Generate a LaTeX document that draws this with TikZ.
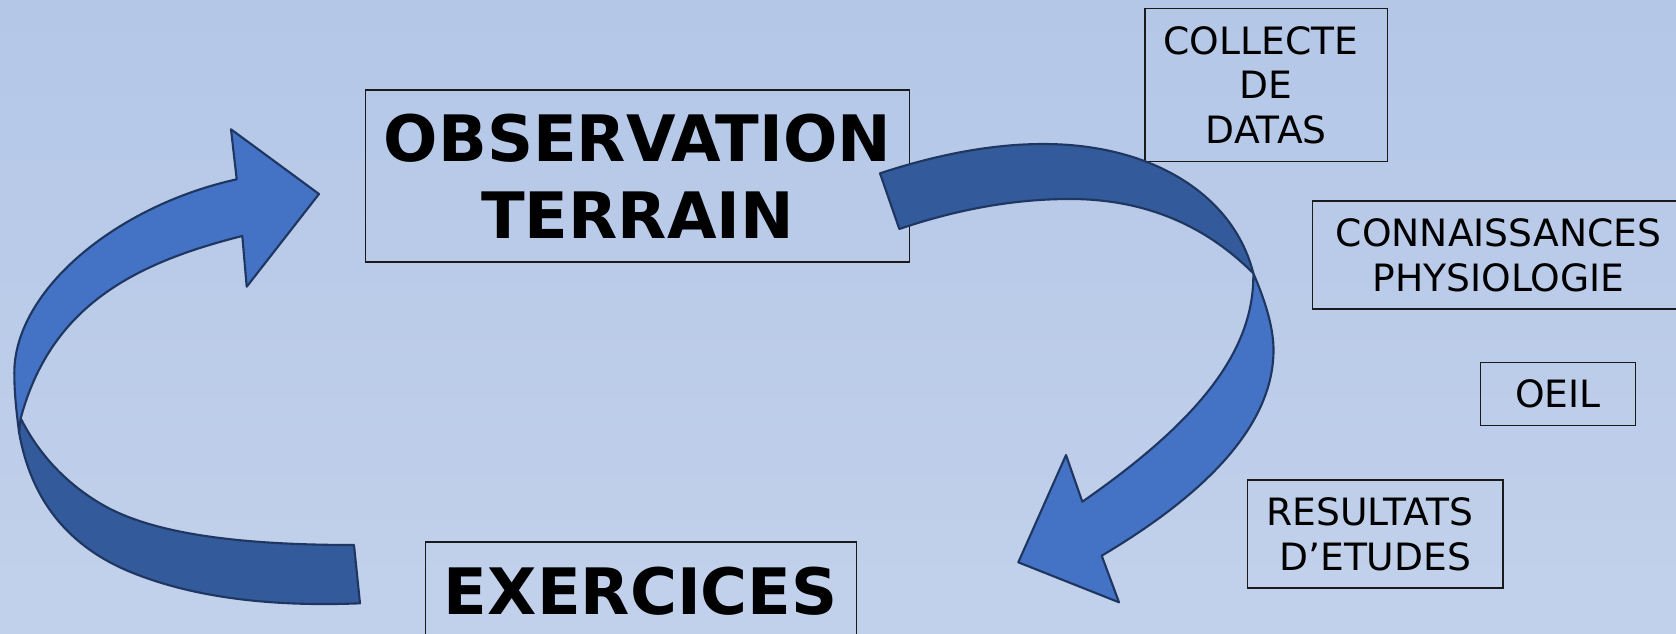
\documentclass[tikz,border=0pt]{standalone}
\usepackage{fontspec}
\setmainfont{DejaVu Sans}
\definecolor{bgtop}{HTML}{B4C7E7}
\definecolor{bgbot}{HTML}{C2D1EB}
\definecolor{ribl}{HTML}{4472C4}
\definecolor{ribd}{HTML}{335A9A}
\definecolor{ribedge}{HTML}{1F3660}
\definecolor{boxline}{HTML}{1A1A1A}
\begin{document}
\begin{tikzpicture}[x=0.01cm,y=-0.01cm,
  box/.style={draw=boxline, line width=0.4pt, rectangle, inner sep=0pt, align=center, text=black},
  smallbox/.style={box, font=\fontsize{10.7}{12.7}\selectfont},
  bigbox/.style={box, font=\fontsize{18.2}{21.9}\selectfont\bfseries},
  ribbonlight/.style={fill=ribl, draw=ribedge, line width=0.6pt, line join=round},
  ribbondark/.style={fill=ribd, draw=ribedge, line width=0.6pt, line join=round}]
\shade[top color=bgtop, bottom color=bgbot] (0,0) rectangle (1676,633);
\useasboundingbox (0,0) rectangle (1676,633);
\clip (0,0) rectangle (1676,633);

% boxes
\node[bigbox, minimum width=5.44cm, minimum height=1.721cm] (obs) at (637.6,175.9) {OBSERVATION\\TERRAIN};
\node[bigbox, minimum width=4.308cm, minimum height=0.98cm] (exo) at (640.8,591) {EXERCICES};
\node[smallbox, minimum width=2.427cm, minimum height=1.528cm] (collecte) at (1266.2,85) {COLLECTE\hspace*{3pt}\\DE\\DATAS};
\node[smallbox, minimum width=3.72cm, minimum height=1.08cm] (conn) at (1498.6,255) {CONNAISSANCES\\PHYSIOLOGIE};
\node[smallbox, minimum width=1.549cm, minimum height=0.63cm] (oeil) at (1558,393.9) {OEIL};
\node[smallbox, minimum width=2.556cm, minimum height=1.08cm] (res) at (1375.2,534) {RESULTATS\hspace*{3pt}\\D’ETUDES};

% left curved arrow (lower dark part)
\filldraw[ribbondark] (20.7,418.3) .. controls (38.8,454.2) and (65.3,482.5) .. (100,503.3)
  .. controls (146.3,531.1) and (226.3,545) .. (354,545) -- (360,603.3)
  .. controls (268.5,607) and (192.9,596.9) .. (133,573)
  .. controls (68.9,547.5) and (30.9,500.5) .. (19,432) -- cycle;
% left curved arrow (upper light part)
\filldraw[ribbonlight] (19,432) .. controls (16.5,412) and (14.3,393) .. (14.3,373)
  .. controls (14.3,290) and (116.7,205.7) .. (236.7,179.3)
  -- (231,129.3) -- (319,194) -- (246.7,286.7) -- (242.3,236)
  .. controls (132.3,263.5) and (50.6,307.3) .. (20.7,418.3) -- cycle;

% right curved arrow (upper dark part)
\filldraw[ribbondark] (880,173.3) .. controls (939.2,153.8) and (993.8,144) .. (1043.3,144)
  .. controls (1153.3,144) and (1233.9,195.7) .. (1253.3,273.3)
  .. controls (1203.8,223.8) and (1142.7,199) .. (1070,199)
  .. controls (1015,199) and (958.1,209) .. (899.3,229) -- cycle;
% right curved arrow (lower light part)
\filldraw[ribbonlight] (1253.3,273.3) .. controls (1266.8,304.3) and (1273.5,329.7) .. (1273.5,350)
  .. controls (1273.5,419.2) and (1216.2,487.8) .. (1101.7,555.7)
  -- (1119,602.3) -- (1018.3,562.3) -- (1066,455) -- (1082.3,501.7)
  .. controls (1200,420) and (1254.5,350) .. (1253.3,273.3) -- cycle;
\end{tikzpicture}
\end{document}
